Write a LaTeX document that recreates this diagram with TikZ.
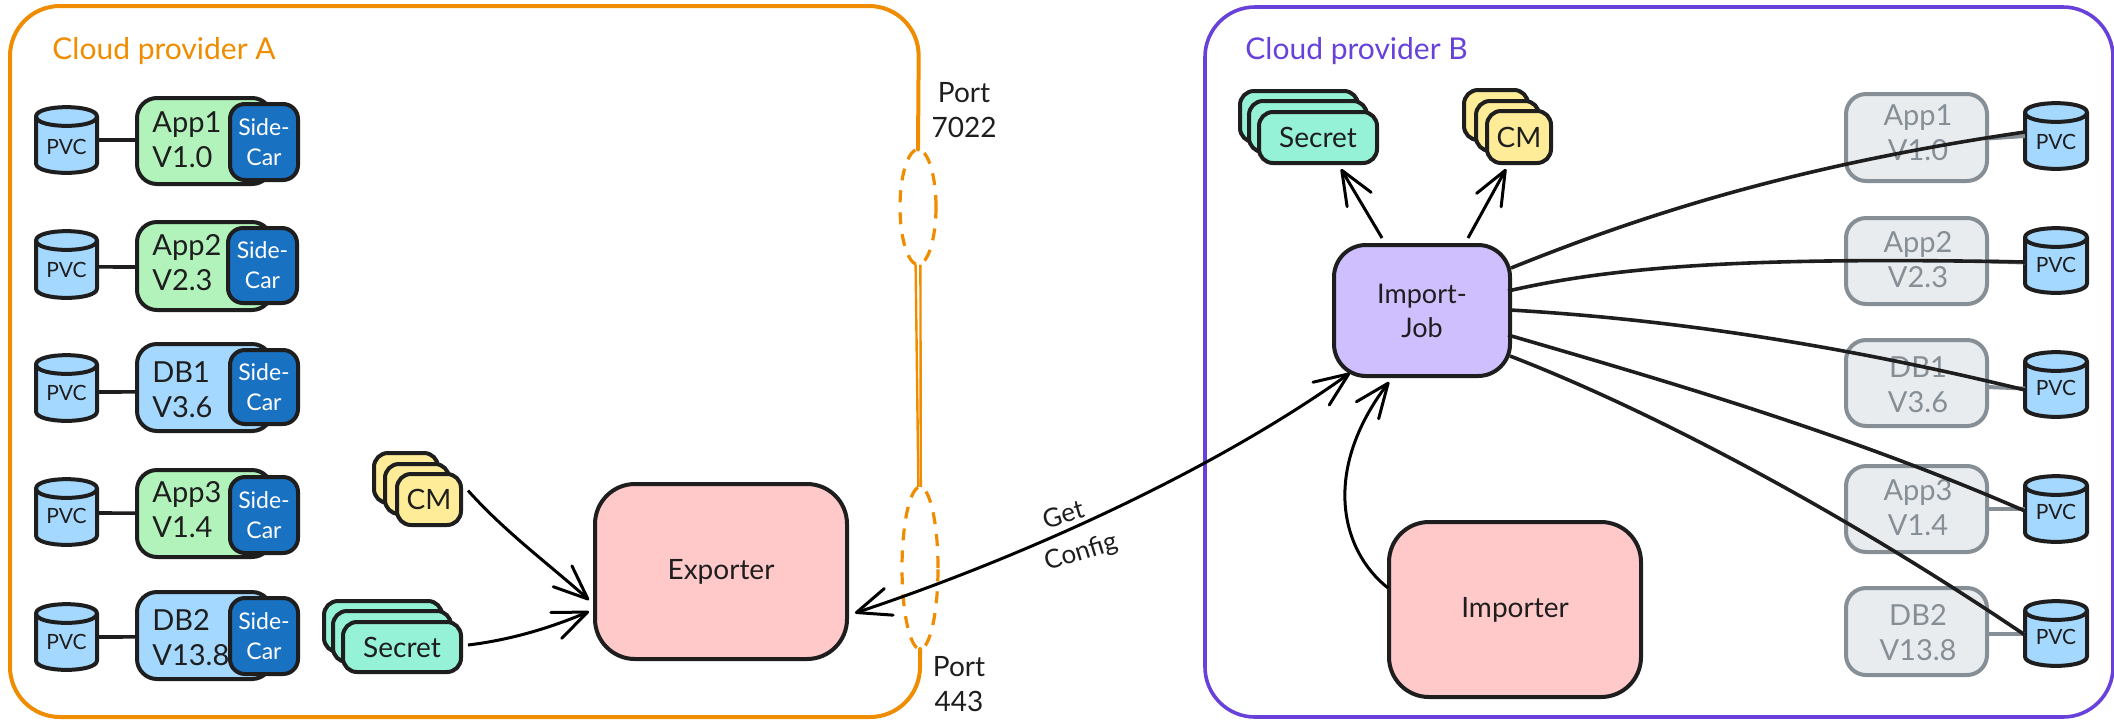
\documentclass[tikz,border=0pt]{standalone}
\usepackage{fontspec}
\setmainfont{Lato}
\usetikzlibrary{arrows.meta,shapes.geometric,calc}
\definecolor{ink}{HTML}{1E1E1E}
\definecolor{orangeA}{HTML}{F08C00}
\definecolor{violetB}{HTML}{6741D9}
\definecolor{greenF}{HTML}{B2F2BB}
\definecolor{blueF}{HTML}{A5D8FF}
\definecolor{carF}{HTML}{1971C2}
\definecolor{cmF}{HTML}{FFEC99}
\definecolor{secF}{HTML}{96F2D7}
\definecolor{pinkF}{HTML}{FFC9C9}
\definecolor{purF}{HTML}{D0BFFF}
\definecolor{grayF}{HTML}{E9ECEF}
\definecolor{grayS}{HTML}{868E96}
\tikzset{
  x=0.5pt,y=-0.5pt,
  bx/.style={draw=ink,line width=2pt,rounded corners=10pt,inner sep=0pt,outer sep=0pt,align=center,text=ink,line join=round},
  appg/.style={bx,fill=greenF},
  appb/.style={bx,fill=blueF},
  sidecar/.style={bx,fill=carF,rounded corners=7.5pt,text=white,font=\fontsize{11.5}{15}\selectfont},
  cmcard/.style={bx,fill=cmF,rounded corners=7pt,font=\fontsize{14}{17}\selectfont},
  seccard/.style={bx,fill=secF,rounded corners=7pt,font=\fontsize{14}{17}\selectfont},
  bigpink/.style={bx,fill=pinkF,rounded corners=20pt,font=\fontsize{14}{17}\selectfont},
  jobbox/.style={bx,fill=purF,rounded corners=16pt,font=\fontsize{13.5}{17}\selectfont},
  ghost/.style={bx,draw=grayS,fill=grayF},
  apptxt/.style={anchor=west,align=left,inner sep=0pt,text=ink,font=\fontsize{14.5}{17.5}\selectfont},
  ghosttxt/.style={align=center,inner sep=0pt,text=grayS,font=\fontsize{14.5}{17.5}\selectfont},
  pvctxt/.style={inner sep=0pt,text=ink,font=\fontsize{10.5}{12}\selectfont},
  titleA/.style={anchor=west,inner sep=0pt,text=orangeA,font=\fontsize{15}{17}\selectfont},
  titleB/.style={anchor=west,inner sep=0pt,text=violetB,font=\fontsize{15}{17}\selectfont},
  porttxt/.style={align=center,inner sep=0pt,text=ink,font=\fontsize{14}{17.5}\selectfont},
  edgetxt/.style={align=center,inner sep=0pt,text=ink,font=\fontsize{13}{16}\selectfont,rotate=17},
  portring/.style={ellipse,draw=orangeA,line width=1.6pt,dash pattern=on 6pt off 5pt,inner sep=0pt,outer sep=0pt},
  link/.style={draw=ink,line width=1.8pt},
  stub/.style={draw=grayS,line width=2pt},
  flow/.style={draw=black,line width=1.5pt,-{Straight Barb[length=17pt,width=14pt,line width=1.5pt,round]}},
  flowboth/.style={draw=black,line width=1.5pt,{Straight Barb[length=17pt,width=14pt,line width=1.5pt,round]}-{Straight Barb[length=17pt,width=14pt,line width=1.5pt,round]}},
}
% style, name, x1, y1, x2, y2, text
\newcommand{\rbox}[7]{\node[#1,minimum width={(#5-#3)*0.5pt},minimum height={(#6-#4)*0.5pt}] (#2) at ({(#3+#5)/2},{(#4+#6)/2}) {#7};}
% name, x1, y1, x2, y2, text y
\newcommand{\pvc}[6]{%
  \draw[draw=ink,fill=blueF,line width=2pt,line join=round]
    (#2,#3+9.5) -- (#2,#5-9.5) .. controls (#2,#5+3) and (#4,#5+3) .. (#4,#5-9.5)
    -- (#4,#3+9.5) .. controls (#4,#3-3) and (#2,#3-3) .. cycle;
  \draw[draw=ink,line width=2pt] (#2,#3+9.5) .. controls (#2,#3+22) and (#4,#3+22) .. (#4,#3+9.5);
  \node[inner sep=0pt,outer sep=0pt,minimum width={(#4-#2)*0.5pt},minimum height={(#5-#3)*0.5pt}] (#1) at ({(#2+#4)/2},{(#3+#5)/2}) {};
  \node[pvctxt] (#1t) at ({(#2+#4)/2},#6) {PVC};}
\begin{document}
\begin{tikzpicture}
\useasboundingbox (0,0) rectangle (2114,719);

% Cloud provider A frame
\node[portring,minimum width=18pt,minimum height=57.5pt] (portTop) at (918,207) {};
\node[portring,minimum width=18pt,minimum height=81pt] (portBot) at (920,568) {};
\draw[draw=orangeA,line width=2pt,rounded corners=25pt,line cap=round]
  (portTop.north) -- (919,6) -- (10,6) -- (10,717) -- (920,717) -- (portBot.south);
\draw[draw=orangeA,line width=1.2pt] ([xshift=-1.2pt]portTop.south) -- ([xshift=-.8pt]portBot.north);
\draw[draw=orangeA,line width=1.2pt] ([xshift=1.2pt]portTop.south) -- ([xshift=.4pt]portBot.north);
\node[titleA] (titA) at (52,51) {Cloud provider A};
\node[porttxt] (portA) at (964,110) {Port\\7022};
\node[porttxt] (portC) at (959,684) {Port\\443};

% Cloud provider B frame
\node[draw=violetB,line width=1.8pt,rounded corners=25pt,inner sep=0pt,outer sep=0pt,minimum width=454pt,minimum height=355pt] (frameB) at (1659,362) {};
\node[titleB] (titB) at (1245,51) {Cloud provider B};

% left column
\rbox{appg}{a1}{137}{98}{272}{184}{}
\rbox{sidecar}{s1}{230}{104}{298}{180}{Side-\\Car}
\node[apptxt] (a1t) at (152,139.5) {App1\\V1.0};
\pvc{p1}{36}{107}{97}{173}{147}
\rbox{appg}{a2}{137}{222}{272}{310}{}
\rbox{sidecar}{s2}{228}{228}{297}{303}{Side-\\Car}
\node[apptxt] (a2t) at (152,263) {App2\\V2.3};
\pvc{p2}{36}{231}{97}{298}{270}
\rbox{appb}{a3}{137}{344}{272}{431}{}
\rbox{sidecar}{s3}{230}{350}{298}{424}{Side-\\Car}
\node[apptxt] (a3t) at (152,389.5) {DB1\\V3.6};
\pvc{p3}{36}{355}{97}{421}{393}
\rbox{appg}{a4}{137}{470}{272}{557}{}
\rbox{sidecar}{s4}{230}{477}{298}{553}{Side-\\Car}
\node[apptxt] (a4t) at (152,509.5) {App3\\V1.4};
\pvc{p4}{36}{479}{97}{545}{516}
\rbox{appb}{a5}{137}{592}{272}{679}{}
\rbox{sidecar}{s5}{230}{598}{298}{674}{Side-\\Car}
\node[apptxt] (a5t) at (152,637.5) {DB2\\V13.8};
\pvc{p5}{36}{604}{97}{670}{642}
\draw[link] ([yshift=0pt]p1.east) -- ([yshift=.5pt]a1.west);
\draw[link] ([yshift=-1.2pt]p2.east) -- ([yshift=-.5pt]a2.west);
\draw[link] ([yshift=-2pt]p3.east) -- ([yshift=-2.2pt]a3.west);
\draw[link] ([yshift=-.5pt]p4.east) -- ([yshift=.2pt]a4.west);
\draw[link] (p5.east) -- ([yshift=-.7pt]a5.west);

% left cards
\rbox{cmcard}{cmA1}{374}{453}{438}{503}{}
\rbox{cmcard}{cmA2}{385}{464}{449}{514}{}
\rbox{cmcard}{cmA3}{397}{474}{461}{525}{CM}
\rbox{seccard}{seA1}{324}{601}{442}{652}{}
\rbox{seccard}{seA2}{333}{611}{451}{662}{}
\rbox{seccard}{seA3}{343}{622}{461}{672}{Secret}

\rbox{bigpink}{exporter}{595}{484}{847}{659}{Exporter}
\rbox{bigpink}{importer}{1389}{522}{1641}{697}{Importer}

% right cards
\rbox{seccard}{seB1}{1240}{91}{1358}{142}{}
\rbox{seccard}{seB2}{1249}{101}{1367}{152}{}
\rbox{seccard}{seB3}{1259}{112}{1377}{163}{Secret}
\rbox{cmcard}{cmB1}{1464}{90}{1528}{140}{}
\rbox{cmcard}{cmB2}{1476}{101}{1539}{151}{}
\rbox{cmcard}{cmB3}{1487}{111}{1551}{163}{CM}
\rbox{jobbox}{job}{1334}{245}{1510}{376}{Import-\\Job}

% ghost column
\rbox{ghost}{g1}{1846}{94}{1987}{181}{}
\node[ghosttxt] (g1t) at (1918,132.5) {App1\\V1.0};
\rbox{ghost}{g2}{1846}{218}{1987}{304}{}
\node[ghosttxt] (g2t) at (1918,259.5) {App2\\V2.3};
\rbox{ghost}{g3}{1846}{340}{1987}{426}{}
\node[ghosttxt] (g3t) at (1918,385) {DB1\\V3.6};
\rbox{ghost}{g4}{1846}{466}{1987}{552}{}
\node[ghosttxt] (g4t) at (1918,507.5) {App3\\V1.4};
\rbox{ghost}{g5}{1846}{588}{1987}{675}{}
\node[ghosttxt] (g5t) at (1918,632.5) {DB2\\V13.8};

\pvc{q1}{2025}{103}{2087}{169}{142}
\pvc{q2}{2025}{228}{2087}{293}{265}
\pvc{q3}{2025}{352}{2087}{417}{388}
\pvc{q4}{2025}{476}{2087}{542}{512}
\pvc{q5}{2025}{601}{2087}{666}{637}

\draw[stub] ([yshift=-.5pt]g1.east) -- (q1.west);
\draw[stub] ([yshift=-.2pt]g2.east) -- ([yshift=-1pt]q2.west);
\draw[stub] ([yshift=-2pt]g3.east) -- ([yshift=-2pt]q3.west);
\draw[stub] (g4.east) -- (q4.west);
\draw[stub] ([yshift=-1pt]g5.east) -- (q5.west);

% connectors from the job to the volumes
\draw[link] ([shift={(1,-42.5)}]job.east) .. controls (1650,212) and (1800,165) .. ([shift={(0,-4)}]q1.west);
\draw[link] ([shift={(-2,-19.5)}]job.east) .. controls (1620,265) and (1760,257) .. ([shift={(0,1.5)}]q2.west);
\draw[link] ([shift={(0,-.5)}]job.east) .. controls (1650,318) and (1820,340) .. ([shift={(0,5.5)}]q3.west);
\draw[link] ([shift={(-2,24.5)}]job.east) .. controls (1680,385) and (1850,435) .. ([shift={(0,2)}]q4.west);
\draw[link] ([shift={(0,45.5)}]job.east) .. controls (1650,410) and (1840,510) .. ([shift={(0,1.5)}]q5.west);

% arrows
\draw[flow] ([shift={(7,-9)}]cmA3.east) .. controls (505,532) and (550,565) .. ([shift={(-6,28.5)}]exporter.west);
\draw[flow] ([shift={(7,-2)}]seA3.east) .. controls (510,640) and (550,628) .. ([shift={(-6,40)}]exporter.west);
\draw[flow] ([shift={(-40,-7)}]job.north) -- ([shift={(23,6)}]seB3.south);
\draw[flow] ([shift={(46,-7)}]job.north) -- ([shift={(-13,6)}]cmB3.south);
\draw[flow] ([shift={(-1,-21.5)}]importer.west) .. controls (1340,550) and (1322,470) .. ([shift={(-33,6)}]job.south);
\draw[flowboth] ([shift={(8,41.5)}]exporter.east) .. controls (1000,565) and (1200,480) .. ([shift={(-72,-3)}]job.south);

\node[edgetxt] (get) at (1063,514) {Get};
\node[edgetxt] (cfg) at (1081,553) {Config};
\end{tikzpicture}
\end{document}
